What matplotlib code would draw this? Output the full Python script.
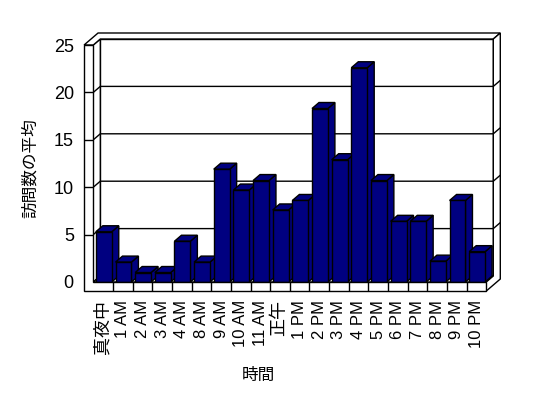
import numpy as np
import matplotlib.pyplot as plt
from matplotlib.patches import Polygon

hours = ['真夜中', '1 AM', '2 AM', '3 AM', '4 AM', '8 AM', '9 AM', '10 AM', '11 AM', '正午',
         '1 PM', '2 PM', '3 PM', '4 PM', '5 PM', '6 PM', '7 PM', '8 PM', '9 PM', '10 PM']
visits = [5.3, 2.1, 1.0, 1.0, 4.3, 2.1, 11.9, 9.7, 10.7, 7.6,
          8.6, 18.3, 12.9, 22.6, 10.7, 6.4, 6.4, 2.2, 8.6, 3.2]
yticks = [0, 5, 10, 15, 20, 25]

navy = '#000080'
dx, dy = 0.356, 0.633   # depth shift (category units, value units)
wall = 0.47             # side wall thickness
slab = 0.95             # floor thickness
gap, bw = 0.13, 0.81

plt.rcParams['font.family'] = ['Liberation Sans', 'Noto Sans CJK JP']
fig = plt.figure(figsize=(5.48, 3.98), dpi=100)
ax = fig.add_axes([93.3 / 548, 116 / 398, 393 / 548, 237 / 398])
n = len(hours)
top = yticks[-1]
ax.set_xlim(0, n)
ax.set_ylim(0, top)
for s in ax.spines.values():
    s.set_visible(False)
ax.patch.set_visible(False)

z = [1]


def poly(pts, fc='white'):
    ax.add_patch(Polygon(pts, closed=True, fc=fc, ec='black', lw=1,
                         clip_on=False, zorder=z[0], joinstyle='miter'))
    z[0] += 1


def line(xs, ys):
    ax.plot(xs, ys, color='black', lw=1, clip_on=False, zorder=z[0],
            solid_capstyle='butt')
    z[0] += 1


# walls and floor
poly([(dx, dy), (n + dx, dy), (n + dx, top + dy), (dx, top + dy)])
poly([(0, 0), (dx, dy), (dx, top + dy), (0, top)])
poly([(0, 0), (n, 0), (n + dx, dy), (dx, dy)])
poly([(-wall, top), (0, top), (dx, top + dy), (n + dx, top + dy),
      (n + 2 * dx, top + 2 * dy), (-wall + 2 * dx, top + 2 * dy)])
poly([(n + dx, top + dy), (n + 2 * dx, top + 2 * dy), (n + 2 * dx, -slab + 2 * dy),
      (n, -slab), (n, 0), (n + dx, dy)])
for v in yticks[1:-1]:
    line([0, dx, n + dx, n + 2 * dx], [v, v + dy, v + dy, v + 2 * dy])

# bars
for i, v in enumerate(visits):
    l = i + gap
    r = l + bw
    poly([(r, 0), (r + dx, dy), (r + dx, v + dy), (r, v)], navy)
    poly([(l, v), (r, v), (r + dx, v + dy), (l + dx, v + dy)], navy)
    poly([(l, 0), (r, 0), (r, v), (l, v)], navy)

# front faces of side wall and floor
poly([(-wall, top), (0, top), (0, 0), (n, 0), (n, -slab), (-wall, -slab)])
for v in yticks[1:-1]:
    line([-wall, 0], [v, v])
for i in range(1, n):
    line([i, i], [0, -slab])

ax.set_xticks(np.arange(n) + 0.5, hours, rotation=90, fontsize=12)
for lab in ax.get_xticklabels():
    if not lab.get_text().endswith('M'):
        lab.set_fontsize(13)
ax.set_yticks(yticks, [str(t) for t in yticks], fontsize=13)
ax.tick_params(axis='x', length=0, pad=13)
ax.tick_params(axis='y', length=0, pad=14)
ax.set_xlabel('時間', fontsize=12)
ax.xaxis.set_label_coords(0.419, -0.363)
ax.set_ylabel('訪問数の平均', fontsize=12)
ax.yaxis.set_label_coords(-0.142, 0.481)

fig.savefig('out.png', dpi=100)
